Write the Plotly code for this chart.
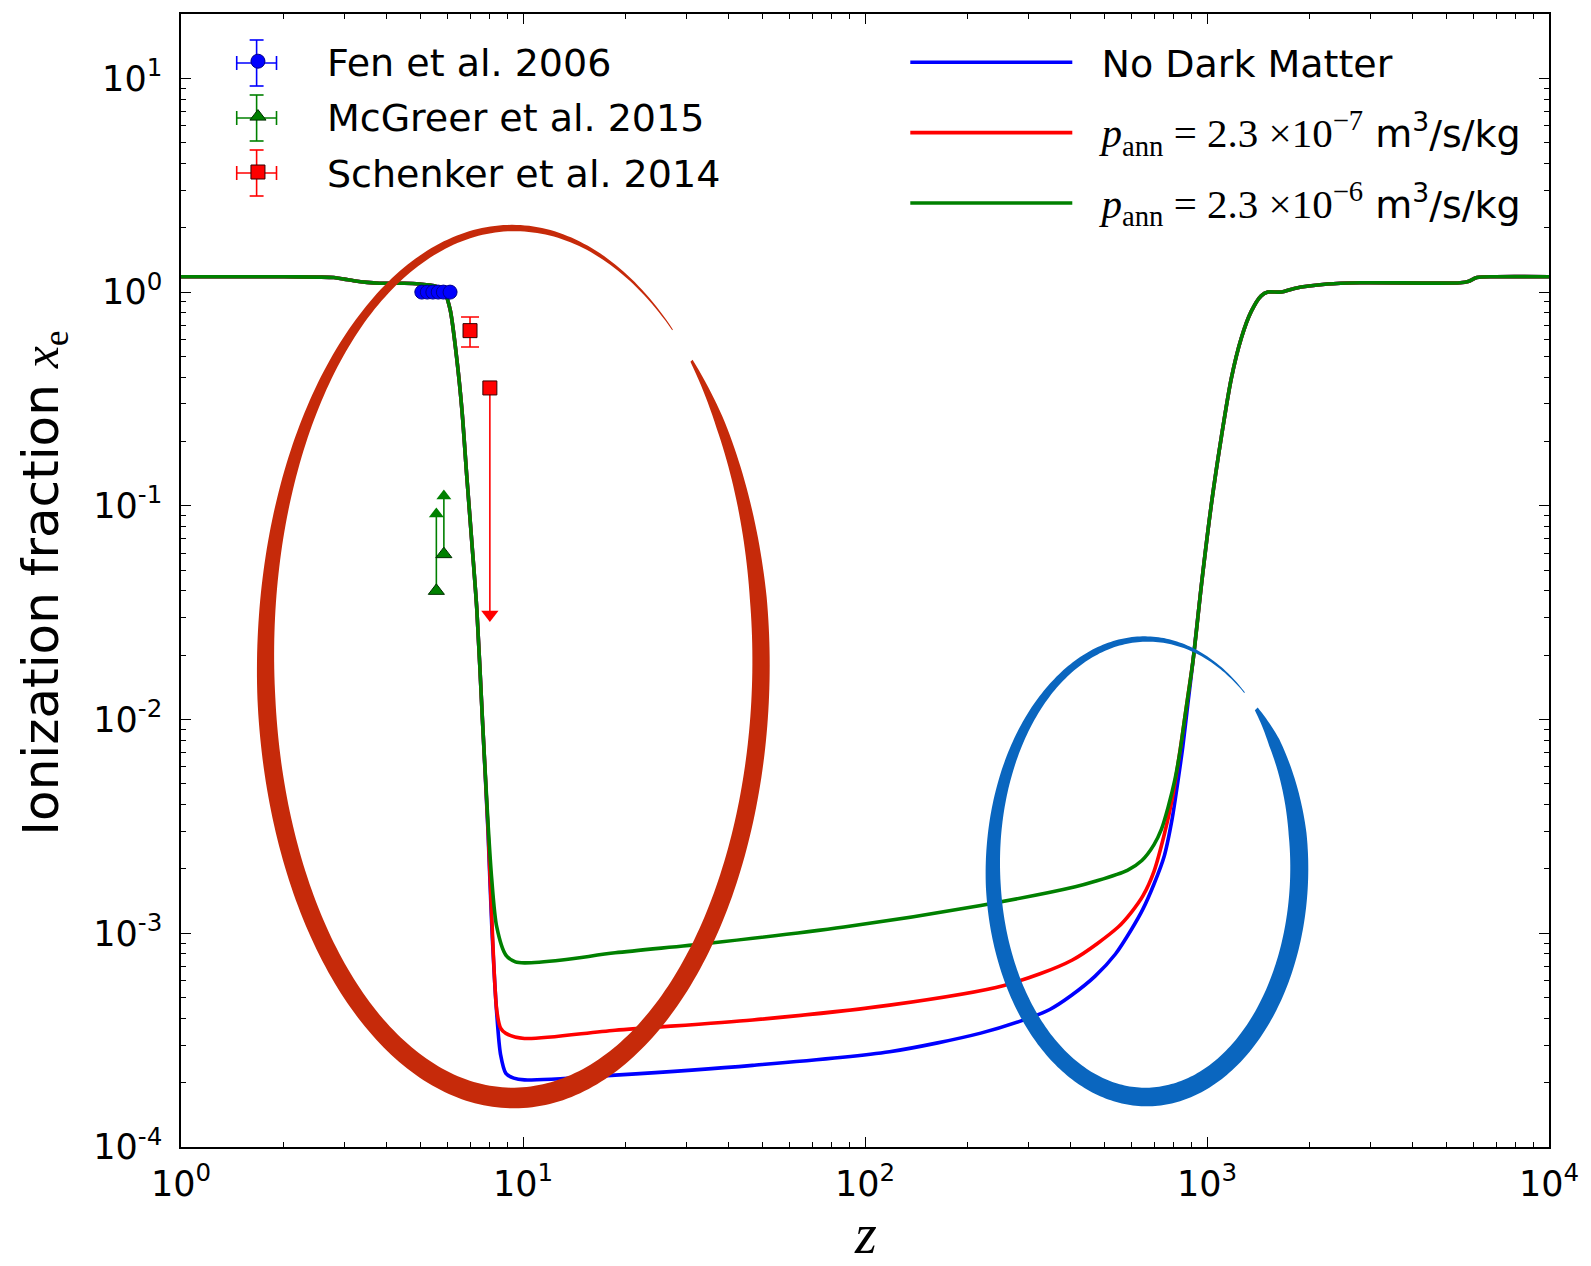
import numpy as np
import plotly.graph_objects as go

# ---------------- data ----------------
z_green = [1, 1.5, 2, 2.5, 2.8, 3.0, 3.2, 3.5, 3.8, 4.5, 5.0, 5.5, 5.8, 5.93, 6.13, 6.41, 6.63,
           6.85, 7.09, 7.33, 7.61, 7.9, 8.1, 8.38, 8.91, 9.5, 10.1, 13, 18.6, 34.5, 86.8,
           218, 412, 471, 585, 645, 700, 736, 770, 805, 835, 861, 911, 964, 1031, 1102, 1178,
           1260, 1346, 1440, 1507, 1650, 1800, 2250, 2810, 5500, 5800, 6150, 7000, 10000]
xe_green = [1.18, 1.18, 1.18, 1.175, 1.17, 1.15, 1.13, 1.11, 1.10, 1.10, 1.09, 1.07, 1.03, 0.98,
            0.82, 0.48, 0.28, 0.137, 0.0667, 0.0325, 0.010, 0.0033, 0.0018, 0.00107,
            0.00079, 0.000735, 0.000727, 0.00075, 0.00081, 0.000896, 0.00107, 0.00135, 0.00165,
            0.00175, 0.00197, 0.00219, 0.0026, 0.00307, 0.0039, 0.0052, 0.0072, 0.0102, 0.0191,
            0.0432, 0.103, 0.211, 0.395, 0.61, 0.81, 0.96, 1.0, 1.0, 1.04, 1.09, 1.105, 1.105,
            1.12, 1.17, 1.18, 1.18]

z_red = [1, 1.5, 2, 2.5, 2.8, 3.0, 3.2, 3.5, 3.8, 4.5, 5.0, 5.5, 5.8, 5.93, 6.13, 6.41, 6.63,
         6.85, 7.09, 7.33, 7.61, 7.9, 8.1, 8.38, 8.6, 8.91, 10.1, 18.6, 46.9, 118, 255,
         404, 550, 600, 650, 700, 750, 790, 820, 850, 880, 911, 964, 1031, 1102, 1178, 1260,
         1346, 1440, 1507, 1650, 1800, 2250, 2810, 5500, 5800, 6150, 7000, 10000]
xe_red = [1.18, 1.18, 1.18, 1.175, 1.17, 1.15, 1.13, 1.11, 1.10, 1.10, 1.09, 1.07, 1.03, 0.98,
          0.82, 0.48, 0.28, 0.137, 0.0667, 0.0325, 0.010, 0.0031, 0.0012, 0.000436, 0.00036,
          0.00034, 0.000322, 0.000352, 0.000393, 0.000461, 0.00057, 0.00075, 0.00107,
          0.00125, 0.0015, 0.00195, 0.0029, 0.0042, 0.006, 0.0088, 0.013, 0.0191, 0.0432, 0.103,
          0.211, 0.395, 0.61, 0.81, 0.96, 1.0, 1.0, 1.04, 1.09, 1.105, 1.105, 1.12, 1.17, 1.18,
          1.18]

z_blue = [1, 1.5, 2, 2.5, 2.8, 3.0, 3.2, 3.5, 3.8, 4.5, 5.0, 5.5, 5.8, 5.93, 6.13, 6.41, 6.63,
          6.85, 7.09, 7.33, 7.61, 7.9, 8.1, 8.38, 8.6, 8.91, 9.4, 10.1, 18.6, 46.9, 118, 218,
          300, 347, 400, 471, 540, 603, 650, 700, 750, 790, 820, 850, 880, 911, 964, 1031, 1102,
          1178, 1260, 1346, 1440, 1507, 1650, 1800, 2250, 2810, 5500, 5800, 6150, 7000, 10000]
xe_blue = [1.18, 1.18, 1.18, 1.175, 1.17, 1.15, 1.13, 1.11, 1.10, 1.10, 1.09, 1.07, 1.03, 0.98,
           0.82, 0.48, 0.28, 0.137, 0.0667, 0.0325, 0.010, 0.003, 0.0011, 0.00042, 0.00027,
           0.000221, 0.00021, 0.000206, 0.000217, 0.000241, 0.000279, 0.000341, 0.0004,
           0.00044, 0.00051, 0.00063, 0.0008, 0.00105, 0.0013, 0.0017, 0.0023, 0.0034, 0.005,
           0.0075, 0.012, 0.0191, 0.0432, 0.103, 0.211, 0.395, 0.61, 0.81, 0.96, 1.0, 1.0, 1.04,
           1.09, 1.105, 1.105, 1.12, 1.17, 1.18, 1.18]

fan_z = [5.06, 5.25, 5.45, 5.65, 5.85, 6.12]
fan_xe = [0.9999, 0.9999, 0.9999, 0.9999, 0.9998, 0.9996]

mcgreer_z = [5.58, 5.87]
mcgreer_xe = [0.040, 0.0594]
mcgreer_up = [0.0516, 0.0516]

schenker_z = [7.0, 8.0]
schenker_xe = [0.66, 0.356]
schenker_plus = [0.105, 0.0]
schenker_minus = [0.107, 0.325]

MATH = "font-family:Liberation Serif;font-size:41px"
legend_lines = ["\u00a0\u00a0No Dark Matter",
                f"\u00a0\u00a0<span style='{MATH}'><i>p</i><sub>ann</sub> = 2.3 ×10<sup>−7</sup></span> m<sup>3</sup>/s/kg",
                f"\u00a0\u00a0<span style='{MATH}'><i>p</i><sub>ann</sub> = 2.3 ×10<sup>−6</sup></span> m<sup>3</sup>/s/kg"]
legend_data = ["Fen et al. 2006", "McGreer et al. 2015", "Schenker et al. 2014"]
data_colors = ["#0000FF", "#008000", "#FF0000"]

x_ticks = [1, 10, 100, 1000, 10000]
x_ticktext = ["10<sup>0</sup>", "10<sup>1</sup>", "10<sup>2</sup>", "10<sup>3</sup>", "10<sup>4</sup>"]
y_ticks = [1e-4, 1e-3, 1e-2, 1e-1, 1, 10]
y_ticktext = ["10<sup>-4</sup>", "10<sup>-3</sup>", "10<sup>-2</sup>", "10<sup>-1</sup>",
              "10<sup>0</sup>", "10<sup>1</sup>"]

# ---------------- figure ----------------
W, H = 1591, 1266
ML, MR, MT, MB = 181, 35, 14, 119
PW, PH = W - ML - MR, H - MT - MB


def px2paper(x, y):
    return (x - ML) / PW, (H - MB - y) / PH


fig = go.Figure()
LW = 3.6
SM = 0.8
for zz, xx, col, nm, grp in [(z_blue, xe_blue, "#0000FF", legend_lines[0], "l1"),
                             (z_red, xe_red, "#FF0000", legend_lines[1], "l2"),
                             (z_green, xe_green, "#008000", legend_lines[2], "l3")]:
    fig.add_trace(go.Scatter(x=zz, y=xx, mode="lines", name=nm, legendgroup=grp,
                             line=dict(color=col, width=LW, shape="spline", smoothing=SM),
                             legend="legend2"))

# Fan et al.
fig.add_trace(go.Scatter(x=fan_z, y=fan_xe, mode="markers", name=legend_data[0], legendgroup="d1",
                         marker=dict(symbol="circle", size=14, color="#0000FF",
                                     line=dict(color="#00008B", width=1)),
                         legend="legend"))
# McGreer et al. (lower limits with up arrows)
fig.add_trace(go.Scatter(x=mcgreer_z, y=mcgreer_xe, mode="markers", name=legend_data[1],
                         legendgroup="d2",
                         marker=dict(symbol="triangle-up", size=14, color="#008000",
                                     line=dict(color="#003000", width=1)),
                         error_y=dict(type="data", array=mcgreer_up, arrayminus=[0, 0],
                                      color="#008000", thickness=1.6, width=0),
                         legend="legend"))
fig.add_trace(go.Scatter(x=mcgreer_z, y=[v + u for v, u in zip(mcgreer_xe, mcgreer_up)],
                         mode="markers", showlegend=False, hoverinfo="skip",
                         marker=dict(symbol="triangle-up", size=13, color="#008000")))
# Schenker et al.
fig.add_trace(go.Scatter(x=schenker_z[:1], y=schenker_xe[:1], mode="markers", name=legend_data[2],
                         legendgroup="d3",
                         marker=dict(symbol="square", size=14, color="#FF0000",
                                     line=dict(color="#300000", width=1)),
                         error_y=dict(type="data", array=schenker_plus[:1],
                                      arrayminus=schenker_minus[:1], color="#FF0000",
                                      thickness=1.6, width=9),
                         legend="legend"))
fig.add_trace(go.Scatter(x=schenker_z[1:], y=schenker_xe[1:], mode="markers", showlegend=False,
                         marker=dict(symbol="square", size=14, color="#FF0000",
                                     line=dict(color="#300000", width=1)),
                         error_y=dict(type="data", array=schenker_plus[1:],
                                      arrayminus=schenker_minus[1:], color="#FF0000",
                                      thickness=1.6, width=0)))
fig.add_trace(go.Scatter(x=schenker_z[1:],
                         y=[v - m for v, m in zip(schenker_xe[1:], schenker_minus[1:])],
                         mode="markers", showlegend=False, hoverinfo="skip",
                         marker=dict(symbol="triangle-down", size=15, color="#FF0000")))


# ---------------- hand-drawn highlight ellipses (annotation shapes) ----------------
def brush_ellipse(cx, cy, a, b, th0, sweep, knots, thick):
    s = np.linspace(0, 1, 361)
    th = np.radians(th0 - sweep * s)
    t = np.interp(s, knots, thick)
    xo = cx + (a + t / 2) * np.cos(th)
    yo = cy - (b + t / 2) * np.sin(th)
    xi = cx + (a - t / 2) * np.cos(th)
    yi = cy - (b - t / 2) * np.sin(th)
    xs = np.concatenate([xo, xi[::-1]])
    ys = np.concatenate([yo, yi[::-1]])
    px, py = px2paper(xs, ys)
    pts = [f"{u:.5f},{v:.5f}" for u, v in zip(px, py)]
    return "M" + " L".join(pts) + " Z"


knots = [0, 0.03, 0.10, 0.35, 0.62, 0.78, 0.9, 1.0]
red_thick = [3, 10, 17, 21, 18, 9, 6, 1]
blue_thick = [4, 12, 18, 19, 15, 8, 5, 1]
shapes = [
    dict(type="path", xref="paper", yref="paper", layer="above",
         path=brush_ellipse(515, 663, 249, 435, 44, 354, knots, red_thick),
         fillcolor="#C62A0A", line=dict(width=0)),
    dict(type="path", xref="paper", yref="paper", layer="above",
         path=brush_ellipse(1151, 868, 154, 229, 44, 354, knots, blue_thick),
         fillcolor="#0A66BF", line=dict(width=0)),
]

# error-bar crosses for the data legend symbols
LEG_X = 257
LEG_ROWS = [63, 118, 173]
for col, yy in zip(data_colors, LEG_ROWS):
    segs = [((LEG_X - 20, yy), (LEG_X + 20, yy)),
            ((LEG_X, yy - 23), (LEG_X, yy + 23)),
            ((LEG_X - 20, yy - 7), (LEG_X - 20, yy + 7)),
            ((LEG_X + 20, yy - 7), (LEG_X + 20, yy + 7)),
            ((LEG_X - 7, yy - 23), (LEG_X + 7, yy - 23)),
            ((LEG_X - 7, yy + 23), (LEG_X + 7, yy + 23))]
    for (x0, y0), (x1, y1) in segs:
        p0 = px2paper(x0, y0)
        p1 = px2paper(x1, y1)
        shapes.append(dict(type="line", xref="paper", yref="paper", layer="below",
                           x0=p0[0], y0=p0[1], x1=p1[0], y1=p1[1],
                           line=dict(color=col, width=1.6)))

axis_common = dict(type="log", showline=True, linecolor="black", linewidth=1.5,
                   mirror="allticks", ticks="inside", ticklen=10, tickwidth=1,
                   tickcolor="black", showgrid=False, zeroline=False,
                   tickfont=dict(family="DejaVu Sans", size=35, color="black"),
                   minor=dict(ticks="inside", ticklen=5, tickwidth=1, tickcolor="black",
                              dtick="D1", showgrid=False))

fig.update_layout(
    width=W, height=H,
    margin=dict(l=ML, r=MR, t=MT, b=MB),
    paper_bgcolor="white", plot_bgcolor="white",
    font=dict(family="DejaVu Sans", color="black"),
    xaxis=dict(axis_common, range=[0, 4], tickvals=x_ticks, ticktext=x_ticktext,
               ticklabelstandoff=5),
    yaxis=dict(axis_common, range=[-4, float(np.log10(20))], tickvals=y_ticks,
               ticktext=y_ticktext, ticklabelstandoff=10),
    showlegend=True,
    legend=dict(x=px2paper(189, 0)[0], y=px2paper(0, 30)[1], xanchor="left", yanchor="top",
                bgcolor="rgba(0,0,0,0)", borderwidth=0, itemwidth=128,
                font=dict(family="DejaVu Sans", size=38, color="black"),
                tracegroupgap=3),
    legend2=dict(x=px2paper(909, 0)[0], y=px2paper(0, 31)[1], xanchor="left", yanchor="top",
                 bgcolor="rgba(0,0,0,0)", borderwidth=0, itemwidth=162,
                 font=dict(family="DejaVu Sans", size=38, color="black"),
                 tracegroupgap=18),
    shapes=shapes,
    annotations=[
        dict(text="<i>z</i>", xref="paper", yref="paper", x=0.5,
             y=px2paper(0, 1266)[1], xanchor="center", yanchor="bottom", showarrow=False,
             borderpad=0,
             font=dict(family="Liberation Serif", size=56, color="black")),
        dict(text="Ionization fraction <span style='font-family:Liberation Serif'><i>x</i><sub>e</sub></span>",
             xref="paper", yref="paper", x=px2paper(44, 0)[0], y=px2paper(0, 583)[1],
             xanchor="center", yanchor="middle", textangle=-90, showarrow=False,
             font=dict(family="DejaVu Sans", size=50, color="black")),
    ],
)

fig.write_html("out.html")
